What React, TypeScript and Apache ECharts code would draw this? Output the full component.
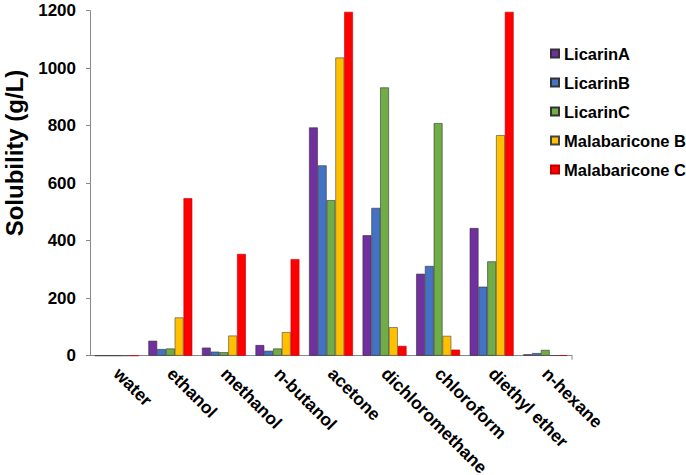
import React, { useEffect, useRef } from "react";
import * as echarts from "echarts";

const categories = ["water", "ethanol", "methanol", "n-butanol", "acetone", "dichloromethane", "chloroform", "diethyl ether", "n-hexane"];
const licarinA = [0, 52, 28, 37, 794, 419, 285, 444, 5];
const licarinB = [0, 23, 14, 17, 662, 514, 312, 240, 9];
const licarinC = [0, 25, 12, 25, 541, 933, 809, 328, 20];
const malabariconeB = [0, 133, 70, 82, 1037, 99, 69, 767, 1];
const malabariconeC = [0, 548, 354, 336, 1196, 34, 21, 1196, 1];
const yTicks = { min: 0, max: 1200, interval: 200 };

const FONT = "'Liberation Sans', Arial, sans-serif";

export default function App() {
  const ref = useRef<HTMLDivElement>(null);
  useEffect(() => {
    if (!ref.current) return;
    const chart = echarts.init(ref.current, null, { renderer: "svg" });
    const mk = (name: string, data: number[], color: string, border: string) => ({
      name,
      type: "bar",
      data,
      barGap: "0%",
      barCategoryGap: "18%",
      itemStyle: { color, borderColor: border, borderWidth: 0.6 },
    });
    chart.setOption({
      animation: false,
      textStyle: { fontFamily: FONT },
      grid: {
        left: 90,
        right: 114,
        top: 10.7,
        bottom: 119.3,
        containLabel: false,
        outerBoundsMode: "none",
      },
      legend: {
        orient: "vertical",
        left: 545,
        top: 40,
        itemWidth: 8,
        itemHeight: 8,
        itemGap: 12,
        icon: "rect",
        textStyle: { fontFamily: FONT, fontSize: 16.5, fontWeight: "bold", color: "#000", lineHeight: 17 },
      },
      xAxis: {
        type: "category",
        data: categories,
        boundaryGap: true,
        axisLine: { lineStyle: { color: "#888", width: 1 } },
        axisTick: { alignWithLabel: true, length: 4, lineStyle: { color: "#888" } },
        axisLabel: {
          interval: 0,
          rotate: -45,
          margin: 15,
          fontFamily: FONT,
          fontSize: 17.5,
          fontWeight: "bold",
          color: "#000",
        },
      },
      yAxis: {
        type: "value",
        min: yTicks.min,
        max: yTicks.max,
        interval: yTicks.interval,
        splitLine: { show: false },
        axisLine: { show: true, lineStyle: { color: "#888", width: 1 } },
        axisTick: { show: true, length: 4, lineStyle: { color: "#888" } },
        axisLabel: {
          margin: 14,
          fontFamily: FONT,
          fontSize: 17,
          fontWeight: "bold",
          color: "#000",
          formatter: (v: number) => String(v),
        },
      },
      graphic: [
        {
          type: "text",
          x: 14,
          y: 153,
          rotation: Math.PI / 2,
          style: {
            text: "Solubility (g/L)",
            fontFamily: FONT,
            fontSize: 24,
            fontWeight: "bold",
            fill: "#000",
            align: "center",
            verticalAlign: "middle",
          },
        },
        {
          type: "line",
          shape: { x1: 572, y1: 355.7, x2: 572, y2: 359.7 },
          style: { stroke: "#888", lineWidth: 1 },
        },
      ],
      series: [
        mk("LicarinA", licarinA, "#7030A0", "#333"),
        mk("LicarinB", licarinB, "#4472C4", "#333"),
        mk("LicarinC", licarinC, "#70AD47", "#333"),
        mk("Malabaricone B", malabariconeB, "#FFC000", "#444"),
        mk("Malabaricone C", malabariconeC, "#FF0000", "#C00000"),
      ],
    });
    return () => chart.dispose();
  }, []);
  return (
    <div
      ref={ref}
      style={{ position: "absolute", left: 0, top: 0, width: 686, height: 475, overflow: "hidden" }}
    />
  );
}
